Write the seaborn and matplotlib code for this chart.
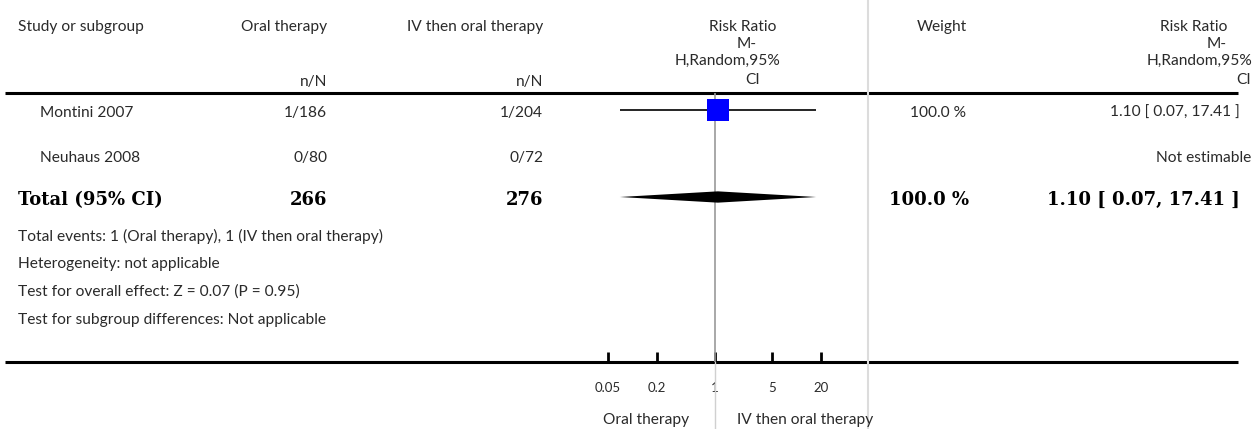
import numpy as np
import pandas as pd
import matplotlib
matplotlib.use('Agg')
import matplotlib.pyplot as plt
import seaborn as sns

# --- data ---
studies = ['Montini 2007', 'Neuhaus 2008']
oral_nN = ['1/186', '0/80']
iv_nN = ['1/204', '0/72']
weights = ['100.0 %', '']
rr = [1.10, np.nan]
rr_lo = [0.07, np.nan]
rr_hi = [17.41, np.nan]
rr_text = ['1.10 [ 0.07, 17.41 ]', 'Not estimable']

total_label = 'Total (95% CI)'
total_oral = '266'
total_iv = '276'
total_weight = '100.0 %'
total_rr = 1.10
total_lo = 0.07
total_hi = 17.41
total_text = '1.10 [ 0.07, 17.41 ]'

footnotes = ['Total events: 1 (Oral therapy), 1 (IV then oral therapy)',
             'Heterogeneity: not applicable',
             'Test for overall effect: Z = 0.07 (P = 0.95)',
             'Test for subgroup differences: Not applicable']

ticks = [0.05, 0.2, 1, 5, 20]
tick_labels = ['0.05', '0.2', '1', '5', '20']
favours = ['Oral therapy', 'IV then oral therapy']

sns.set_style('white')
plt.rcParams['font.family'] = ['Lato', 'DejaVu Sans']

W, H = 1253, 429
fig = plt.figure(figsize=(W / 100, H / 100), dpi=100)

# background axes in pixel units for the table text
bg = fig.add_axes([0, 0, 1, 1])
bg.set_xlim(0, W)
bg.set_ylim(H, 0)
bg.axis('off')

txt = dict(fontsize=11.2, color='#2a2a2a', va='center')
bold = dict(fontsize=13, color='black', va='center', fontweight='bold',
            family=['DejaVu Serif'])

# header
bg.text(18, 27, 'Study or subgroup', ha='left', **txt)
bg.text(327, 27, 'Oral therapy', ha='right', **txt)
bg.text(327, 82, 'n/N', ha='right', **txt)
bg.text(543, 27, 'IV then oral therapy', ha='right', **txt)
bg.text(543, 82, 'n/N', ha='right', **txt)
for s, x, y in [('Risk Ratio', 743, 27), ('M-', 747, 44),
                ('H,Random,95%', 728, 61), ('CI', 753, 80)]:
    bg.text(x, y, s, ha='center', **txt)
bg.text(942, 27, 'Weight', ha='center', **txt)
for s, x, y in [('Risk Ratio', 1227, 27), ('M-', 1227, 44),
                ('H,Random,95%', 1252, 61), ('CI', 1251, 80)]:
    bg.text(x, y, s, ha='right', **txt)

# study rows
row_y = [113, 158]
for i, y in enumerate(row_y):
    bg.text(40, y, studies[i], ha='left', **txt)
    bg.text(327, y, oral_nN[i], ha='right', **txt)
    bg.text(543, y, iv_nN[i], ha='right', **txt)
    bg.text(966, y, weights[i], ha='right', **txt)
    bg.text(1240 if not np.isnan(rr[i]) else 1251, y, rr_text[i], ha='right', **txt)

# total row
bg.text(18, 200, total_label, ha='left', **bold)
bg.text(327, 200, total_oral, ha='right', **bold)
bg.text(543, 200, total_iv, ha='right', **bold)
bg.text(969, 200, total_weight, ha='right', **bold)
bg.text(1240, 200, total_text, ha='right', **bold)

for j, s in enumerate(footnotes):
    bg.text(18, 236 + 28 * j, s, ha='left', **txt)

bg.text(646, 420, favours[0], ha='center', **txt)
bg.text(805, 420, favours[1], ha='center', **txt)

# rules
bg.plot([5, 1238], [93, 93], color='black', lw=2.2, solid_capstyle='butt')
bg.plot([5, 1238], [361.5, 361.5], color='black', lw=2.2, solid_capstyle='butt')
bg.plot([868, 868], [0, H], color='#dcdcdc', lw=1.5)

# forest axes (log scale), 81.9 px per decade, centred at x=714.5
ppd = 81.9
half = np.log10(75)
left = 714.5 - half * ppd
width = 2 * half * ppd
top, bottom = 93, 361.5
ax = fig.add_axes([left / W, (H - bottom) / H, width / W, (bottom - top) / H])
ax.patch.set_alpha(0)
ax.set_xscale('log')
ax.set_xlim(1 / 75, 75)
row_px = 43.5
ax.set_ylim((bottom - 110) / row_px, (top - 110) / row_px)
for sp in ax.spines.values():
    sp.set_visible(False)

ax.axvline(1, color='#9a9a9a', lw=1.2, zorder=1)
ax.axvline(1, ymin=-0.26, ymax=0, color='#d0d0d0', lw=1.0, clip_on=False, zorder=1)

df = pd.DataFrame({'rr': rr, 'lo': rr_lo, 'hi': rr_hi, 'row': np.arange(len(studies))}).dropna()
ax.hlines(df['row'], df['lo'], df['hi'], color='black', lw=1.2, zorder=2)
sns.scatterplot(data=df, x='rr', y='row', marker='s', s=250, color='#0000ff',
                edgecolor='none', ax=ax, zorder=3, legend=False)

ty = 2
dh = 0.13
ax.fill([total_lo, total_rr, total_hi, total_rr], [ty, ty - dh, ty, ty + dh],
        color='black', lw=0, zorder=3)

ax.set_xticks(ticks)
ax.set_xticklabels(tick_labels)
ax.minorticks_off()
ax.tick_params(axis='x', direction='in', length=7, width=2, color='black',
               labelsize=9.5, labelcolor='#2a2a2a', pad=15, bottom=True)
ax.set_yticks([])
ax.set_xlabel('')
ax.set_ylabel('')

fig.savefig('out.png', dpi=100)
